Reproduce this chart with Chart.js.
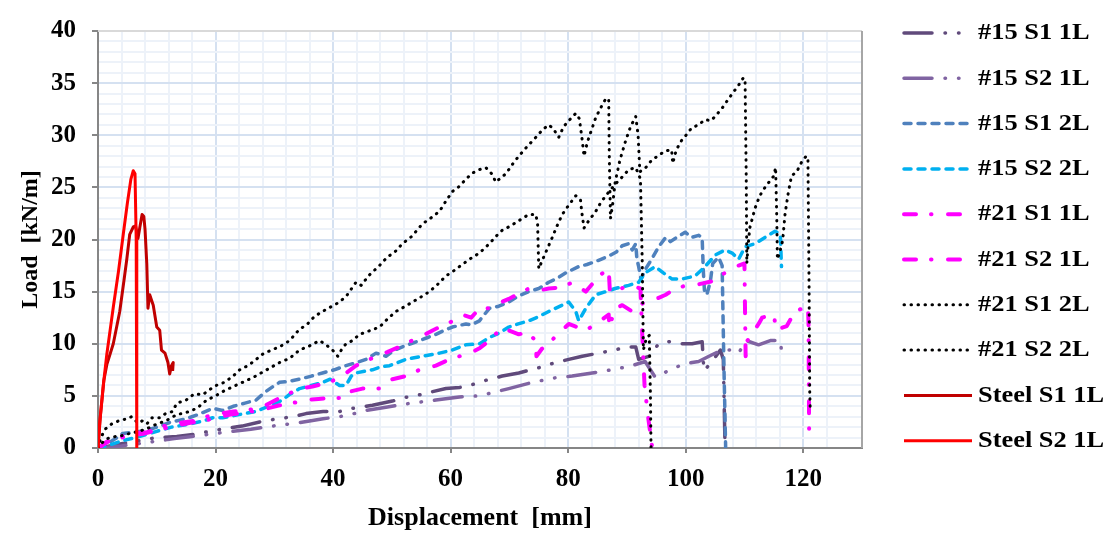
<!DOCTYPE html>
<html>
<head>
<meta charset="utf-8">
<script src="https://cdn.jsdelivr.net/npm/chart.js@4.4.0/dist/chart.umd.min.js"></script>
<style>
  html, body { margin: 0; padding: 0; background: #fff; }
  #wrap { width: 1110px; height: 538px; }
</style>
</head>
<body>
<div id="wrap"><canvas id="loadChart" width="1110" height="538"></canvas></div>
<script>
// series names (legend order)
const seriesNames = ['#15 S1 1L', '#15 S2 1L', '#15 S1 2L', '#15 S2 2L', '#21 S1 1L',
                     '#21 S2 1L', '#21 S1 2L', '#21 S2 2L', 'Steel S1 1L', 'Steel S2 1L'];

// tick labels
const xTickLabels = [0, 20, 40, 60, 80, 100, 120];
const yTickLabels = [0, 5, 10, 15, 20, 25, 30, 35, 40];

// [displacement mm, load kN/m]
const s15S1_1L = [[0,0],[2,0.2],[4,0.4],[6,0.6],[8,0.8],[10,1.0],[13.4,1.1],[16.2,1.3],[19,1.6],[21.9,1.9],
  [24.5,2.1],[27.5,2.5],[30.5,2.8],[33.2,3.0],[35.4,3.3],[38.3,3.5],[41.1,3.5],[43.3,3.8],[46.7,4.1],[50.1,4.5],
  [51.8,4.8],[54.7,5.1],[56.9,5.4],[59.2,5.7],[61.5,5.8],[63.2,6.0],[66.6,6.6],[68.8,6.9],[71.6,7.2],[75,7.7],
  [77.9,8.2],[80.1,8.5],[82.4,8.8],[85.2,9.1],[88,9.4],[89.8,9.7],[91.5,9.7],[92,8.5],[93.8,8.8],[95.4,10.0],
  [97.2,10.2],[99.4,10.0],[101.1,10.0],[102.8,10.2],[103.1,7.4],[104.5,8.3],[105.9,9.4],[106.4,8.5],[106.7,0]];

const s15S2_1L = [[0,0],[4,0.2],[8,0.5],[10.5,0.7],[13,0.9],[16,1.1],[20,1.4],[23,1.6],[26,1.8],[28.5,2.0],
  [30.9,2.2],[34,2.4],[38.3,2.8],[42.2,3.1],[45.6,3.6],[49,3.9],[52,4.2],[54.7,4.4],[57.5,4.6],[61.5,4.9],
  [64.9,5.0],[67,5.3],[69.9,5.7],[73.3,6.2],[77.3,6.7],[80.7,6.9],[84.1,7.2],[86.4,7.4],[89.2,7.7],[90.9,7.9],
  [93.1,8.3],[94.8,6.8],[97.4,7.5],[99.4,8.0],[101.1,8.2],[102.2,8.3],[104.3,8.9],[106.2,9.4],[108,9.4],[109,9.1],
  [110.3,10.3],[112.4,9.9],[114.4,10.3],[116.2,10.3],[116.3,8.8]];

const s15S1_2L = [[0,0],[1.5,0.4],[3,0.9],[4.2,1.4],[6,1.5],[8.3,1.7],[10,2.0],[12.5,2.5],[15,2.8],[17,3.2],
  [19.5,3.8],[21.2,3.6],[23,4.0],[25,4.3],[26.9,4.6],[28.5,5.4],[29.8,5.9],[30.9,6.3],[32.6,6.4],[34.3,6.6],
  [36.3,6.9],[38.2,7.2],[40.2,7.5],[42.2,7.9],[44,8.2],[45.6,8.5],[47.3,9.1],[49,8.8],[50.5,9.4],[51.8,9.7],
  [53.2,10.0],[54.7,10.3],[56.1,10.6],[57.5,10.9],[59,11.3],[60.3,11.6],[62.6,11.9],[63.5,11.8],[64.9,12.2],[66.6,13.4],
  [68.2,13.6],[69.9,14.0],[71.6,14.6],[73.3,15.0],[75,15.3],[76.7,15.9],[78.2,16.3],[79.6,16.8],[81.8,17.4],[83.2,17.6],
  [84.7,17.9],[86.9,18.4],[88.2,18.8],[89.2,19.4],[90.3,19.6],[90.9,19.0],[91.5,19.6],[91.7,18.1],[92,17.4],[92.4,16.2],
  [93.2,17.2],[94.2,18.1],[95.4,19.3],[96.6,20.2],[97.4,19.8],[98.2,20.1],[99.9,20.7],[101,20.2],[102.2,20.4],[102.8,20.2],
  [103.0,17],[103.2,15.0],[103.6,14.7],[104.2,16.0],[104.6,17.7],[105.6,18.3],[106.2,17.5],[106.5,8],[106.8,0]];

const s15S2_2L = [[0,0],[2,0.3],[4.2,0.7],[7,1.1],[10,1.6],[12.5,2.0],[15.6,2.3],[18,2.6],[19.5,2.9],[21.2,2.9],
  [24,3.2],[26.9,3.5],[29,4.0],[31.4,4.6],[32.5,5.1],[34.3,5.7],[36.3,6.0],[38.3,6.3],[39.5,6.6],[41.1,6.0],
  [42.2,6.0],[43.1,6.9],[43.9,7.2],[46.7,7.5],[48.2,7.8],[49.6,7.9],[52.4,8.5],[55.2,8.8],[58.1,9.1],[60.3,9.4],
  [62.6,9.9],[64.9,10.0],[66.6,10.6],[68.2,11.0],[69.9,11.6],[71.5,11.9],[73.3,12.2],[75,12.6],[76.7,13.1],[79,13.7],
  [80.1,14.0],[81.3,13.1],[81.8,12.2],[83,13.4],[84.7,14.7],[86.4,15.0],[88,15.3],[90.3,15.6],[92,15.9],[93.1,16.8],
  [94.8,17.4],[96.2,16.8],[97.7,16.2],[99.3,16.2],[101.6,16.5],[103.3,17.4],[105,18.5],[106.7,19.0],[107.9,18.7],[109,18.1],
  [110.1,19.3],[111.8,19.6],[113.5,20.2],[115.2,20.8],[116.1,20.5],[116.3,17.4]];

const s21S1_1L = [[0,0],[1.5,0.6],[3,0.9],[5.4,1.4],[8.3,1.5],[10.5,2.0],[12.8,2.3],[16.2,2.6],[19.6,3.2],[23,3.5],
  [27.5,3.8],[30.9,4.8],[34.3,5.7],[36.5,5.9],[39.4,6.3],[41.5,6.9],[43.9,7.9],[45.5,8.3],[47.3,8.8],[49.2,9.2],
  [51.3,9.7],[53,10.2],[54.7,10.6],[57,11.3],[59.2,11.9],[60.5,12.2],[62,12.8],[63.5,12.5],[64.9,13.4],[66.6,13.4],
  [68.2,13.9],[69.9,14.3],[71.6,14.8],[73.3,15.3],[75,15.1],[76.7,15.3],[79,15.4],[80.7,15.9],[82,15.4],[83,15.0],
  [84.2,15.8],[85.2,16.5],[86.9,17.2],[87.1,15.0],[88.5,15.2],[90.5,15.6],[92.3,15.3],[92.6,11],[93,6],[93.6,3],
  [94.2,0.5],[94.3,0]];

const s21S2_1L = [[0,0],[2,0.7],[5.4,1.2],[8,1.4],[10,1.7],[13,2.1],[15.5,2.4],[18,2.6],[20,2.9],[22.5,3.2],
  [25,3.4],[27.5,3.6],[30.9,4.1],[33,4.3],[35.5,4.6],[37.5,4.7],[39.4,4.8],[42.2,4.8],[42.8,5.4],[45,5.7],
  [47.9,5.7],[50.1,6.6],[52.4,6.9],[54.7,7.5],[57.5,7.9],[59.8,8.5],[61.5,8.8],[63.4,9.1],[65,9.6],[66.6,10.3],
  [68.8,11.6],[70.2,11.2],[71.6,10.9],[73,11.1],[74.5,10.3],[74.6,8.8],[75.5,9.5],[76.7,10.0],[78,10.8],[79,11.3],
  [80.1,11.9],[81.5,11.6],[83,11.3],[84.5,11.8],[86.9,12.8],[87,11.6],[88,13.4],[89.2,13.7],[90.9,13.1],[92,13.7],
  [94,14.2],[95.4,14.4],[96.6,14.7],[97.7,15.1],[100,15.6],[102.2,15.7],[104.5,16.0],[106.7,16.8],[108,17.3],[110,17.7],
  [110.1,13],[110.2,8.8],[110.5,10.3],[112.4,11.9],[113,12.5],[114.7,12.8],[115.1,12.5],[115.3,11.3],[117.2,11.7],[118.6,13.1],
  [119.9,13.4],[120.8,13.7],[120.9,12],[121,1.7]];

const s21S1_2L = [[0,0],[0.5,1.0],[1.2,1.8],[2.3,2.3],[3.5,2.6],[4.9,2.8],[5.7,3.0],[6.8,2.4],[7.5,2.6],[8.3,2.3],
  [9.2,2.9],[10.5,2.9],[11.5,3.3],[12.7,3.5],[13.4,4.3],[15,4.6],[16.4,5.2],[17.8,5.1],[19,5.6],[20.1,6.0],
  [21.5,6.3],[23,6.9],[24.1,7.5],[25.5,7.9],[26.5,8.3],[28,9.0],[29.5,9.4],[30.9,9.7],[32.6,10.3],[34.3,11.4],
  [35.5,11.8],[36.8,12.6],[38.2,13.1],[39.5,13.5],[41.1,14.0],[42.3,14.6],[43.9,15.9],[44.8,15.6],[46,16.5],[47.9,17.5],
  [49.2,18.3],[50.5,18.8],[51.8,19.6],[53.4,20.3],[55.2,21.5],[56.5,22.0],[58.1,22.7],[59.1,23.6],[60.3,24.6],[61.5,25.1],
  [62.6,25.8],[63.8,26.4],[64.9,26.7],[66,26.9],[67.0,26.3],[67.7,25.5],[68.5,25.9],[69.4,26.3],[70.5,27.2],[71.6,28.0],
  [73,28.9],[74.5,29.8],[75.6,30.5],[76.7,31.0],[77.5,30.6],[78.4,29.8],[79.2,30.8],[80.1,31.4],[81.3,32.1],[81.9,31.6],
  [82.4,29.5],[82.7,28.0],[83.3,29.4],[84.7,31.7],[85.6,32.7],[86.4,33.5],[86.9,33.5],[87.0,28],[87.2,22.0],[87.6,23.5],
  [88,25.5],[88.8,27.6],[89.8,29.5],[90.6,30.8],[91.5,31.8],[91.9,30],[92.2,26.5],[93.2,26.9],[94.2,27.6],[95.5,28.1],
  [96.5,28.5],[97.6,28.6],[97.8,27.3],[98.4,28.6],[99.3,29.5],[100.2,30.1],[101,30.7],[102.2,31.0],[103.3,31.5],[104.3,31.4],
  [105,31.8],[106.2,32.6],[107.3,33.5],[108.2,34.2],[109,34.8],[109.8,35.5],[110.1,35.4],[110.3,26],[110.4,17.7],[110.6,19.3],
  [110.9,21.1],[111.8,23.0],[112.6,24.2],[113.5,25.0],[114.3,25.6],[115,26.1],[115.3,26.9],[115.5,22],[115.6,18.1],[116.1,19.0],
  [116.5,19.9],[116.9,22.4],[117.4,24.3],[118,26.1],[118.9,26.5],[119.7,27.4],[120.5,28.0],[120.8,27.8],[121,15],[121.1,5.5],
  [121.2,3.5]];

const s21S2_2L = [[0,0],[0.7,0.5],[1.5,0.9],[3,1.1],[4.2,1.2],[5.4,1.4],[7,1.6],[8.5,1.9],[10,2.3],[11.5,2.6],
  [13.4,3.2],[15,3.4],[16.8,3.8],[18.5,4.6],[20,5.0],[21.2,5.4],[23,5.9],[24.6,6.3],[26.5,6.8],[28.7,7.5],
  [30.9,8.2],[32.6,8.6],[34.3,9.4],[36,9.8],[37.7,10.3],[38.8,9.9],[39.9,9.4],[40.8,8.8],[41.5,9.5],[42.2,10.0],
  [43.3,10.3],[44.5,10.9],[46,11.2],[47.9,11.6],[49.3,12.4],[50.7,13.1],[52,13.5],[53.5,14.0],[55,14.5],[56.4,15.0],
  [57.8,15.7],[59.2,16.5],[60.3,16.9],[61.5,17.4],[63.2,18.1],[64.9,18.7],[66.6,19.6],[67.7,20.3],[68.8,20.9],[70.2,21.3],
  [71.6,21.8],[73.3,22.4],[74.5,22.4],[74.8,21.5],[75.0,17.2],[75.9,18.4],[76.6,19.3],[77.3,20.2],[78.1,21.3],[79,22.4],
  [80.1,23.3],[81.3,24.2],[82.1,23.8],[82.3,22.7],[82.7,21.1],[83.5,21.8],[84.7,22.7],[85.5,23.5],[86.4,24.2],[88,25.3],
  [89.2,26.0],[90.3,26.7],[91.5,26.9],[92.3,25.8],[92.6,18],[92.8,9.4],[93.3,10.5],[93.8,10.8],[94.0,5],[94.1,0]];

const steelS1_1L = [[0,0],[0.4,3],[1.0,6.5],[1.5,8],[2.6,10],[3.7,13.1],[4.4,16],[4.9,18.1],[5.4,20.5],[6.0,21.2],
  [6.4,21.3],[6.8,20.1],[7.1,21.1],[7.5,22.4],[7.8,22.2],[8.0,21.0],[8.3,17.7],[8.5,13.4],[8.8,14.7],[9.1,14.2],
  [9.4,13.7],[10,11.6],[10.5,11.3],[10.8,9.4],[11.4,9.1],[11.9,8.2],[12.2,7.1],[12.5,7.9],[12.8,8.2],[12.7,7.4]];

const steelS2_1L = [[0,0],[0.3,2.5],[0.9,6],[1.5,9],[2.6,13.5],[3.5,17],[4.3,20.5],[5.0,23.5],[5.6,25.8],[6.0,26.6],
  [6.3,26.3],[6.5,20],[6.6,0]];

const seriesData = [s15S1_1L, s15S2_1L, s15S1_2L, s15S2_2L, s21S1_1L, s21S2_1L, s21S1_2L, s21S2_2L, steelS1_1L, steelS2_1L];

// line styles, one per series
const dashDotDot = [28, 13, 0.5, 13, 0.5, 13];
const dashed = [7, 7];
const dashDot = [12, 15, 0.5, 16.5];
const dotted = [0.5, 6.5];
const lineStyles = [
  { color: '#604A7B', width: 3.5, dash: dashDotDot },
  { color: '#8064A2', width: 3.5, dash: dashDotDot },
  { color: '#4F81BD', width: 3.5, dash: dashed },
  { color: '#00B0F0', width: 3.5, dash: dashed },
  { color: '#FF00FF', width: 4, dash: dashDot },
  { color: '#FF00FF', width: 4, dash: dashDot },
  { color: '#000000', width: 3, dash: dotted },
  { color: '#000000', width: 3, dash: dotted },
  { color: '#C00000', width: 3, dash: [] },
  { color: '#FF0000', width: 3, dash: [] }
];

const serif = '"Liberation Serif", "Times New Roman", serif';
const axisGray = '#868686';
const gridMajor = '#D5E1F1';
const gridMinor = '#EDF2F9';

// top / right frame of the plot area
const plotFrame = {
  id: 'plotFrame',
  beforeDatasetsDraw(chart) {
    const { ctx, chartArea: a } = chart;
    ctx.save();
    ctx.lineWidth = 2;
    ctx.strokeStyle = '#D9D9D9';
    ctx.beginPath(); ctx.moveTo(a.left, a.top); ctx.lineTo(a.right, a.top); ctx.stroke();
    ctx.strokeStyle = '#A6A6A6';
    ctx.beginPath(); ctx.moveTo(a.right, a.top); ctx.lineTo(a.right, a.bottom); ctx.stroke();
    ctx.restore();
  }
};

// legend on the right with line samples
const sideLegend = {
  id: 'sideLegend',
  afterDraw(chart) {
    const ctx = chart.ctx;
    chart.data.datasets.forEach((ds, i) => {
      const y = 33 + i * 45.3;
      ctx.save();
      ctx.strokeStyle = ds.borderColor;
      ctx.lineWidth = ds.borderWidth;
      ctx.lineCap = ds.borderCapStyle;
      ctx.setLineDash(ds.borderDash);
      ctx.beginPath(); ctx.moveTo(904, y); ctx.lineTo(972, y); ctx.stroke();
      ctx.setLineDash([]);
      ctx.fillStyle = '#000';
      ctx.font = 'bold 24px ' + serif;
      ctx.textBaseline = 'middle';
      ctx.translate(978, y);
      ctx.scale(1.1, 1);   // the text in the picture is a bit wide
      ctx.fillText(ds.label, 0, 0);
      ctx.restore();
    });
  }
};

const datasets = seriesData.map((pts, i) => ({
  label: seriesNames[i],
  data: pts.map(([x, y]) => ({ x, y })),
  borderColor: lineStyles[i].color,
  borderWidth: lineStyles[i].width,
  borderDash: lineStyles[i].dash,
  borderCapStyle: lineStyles[i].dash.length ? 'round' : 'butt',
  borderJoinStyle: 'round',
  pointRadius: 0,
  tension: 0,
  fill: false,
  order: seriesData.length - i
}));

new Chart(document.getElementById('loadChart').getContext('2d'), {
  type: 'line',
  data: { datasets },
  plugins: [plotFrame, sideLegend],
  options: {
    responsive: false,
    animation: false,
    devicePixelRatio: 1,
    layout: { padding: { left: 0, right: 248, top: 17, bottom: 0 } },
    plugins: { legend: { display: false }, tooltip: { enabled: false } },
    scales: {
      x: {
        type: 'linear', min: 0, max: 130,
        afterFit: (s) => { s.height = 90; },
        ticks: {
          stepSize: 4, autoSkip: false, maxRotation: 0, padding: 12, color: '#000',
          font: { family: serif, size: 25, weight: 'bold' },
          callback: (v) => xTickLabels.includes(v) ? v : ''
        },
        grid: {
          lineWidth: 2, tickLength: 5,
          color: (c) => c.tick && c.tick.value % 20 === 0 ? gridMajor : gridMinor,
          tickColor: (c) => c.tick && c.tick.value % 20 === 0 ? axisGray : 'rgba(0,0,0,0)'
        },
        border: { color: axisGray, width: 2 },
        title: {
          display: true, text: 'Displacement  [mm]', color: '#000',
          font: { family: serif, size: 26, weight: 'bold' }, padding: { top: 0, bottom: 4 }
        }
      },
      y: {
        type: 'linear', min: 0, max: 40,
        afterFit: (s) => { s.width = 98; },
        ticks: {
          stepSize: 1, autoSkip: false, padding: 16, color: '#000',
          font: { family: serif, size: 25, weight: 'bold' },
          callback: (v) => yTickLabels.includes(v) ? v : ''
        },
        grid: {
          lineWidth: 2, tickLength: 6,
          color: (c) => c.tick && c.tick.value % 5 === 0 ? gridMajor : gridMinor,
          tickColor: (c) => c.tick && c.tick.value % 5 === 0 ? axisGray : 'rgba(0,0,0,0)'
        },
        border: { color: axisGray, width: 2 },
        title: {
          display: true, text: 'Load  [kN/m]', color: '#000',
          font: { family: serif, size: 24, weight: 'bold' }, padding: { top: 16, bottom: 0 }
        }
      }
    }
  }
});
</script>
</body>
</html>
